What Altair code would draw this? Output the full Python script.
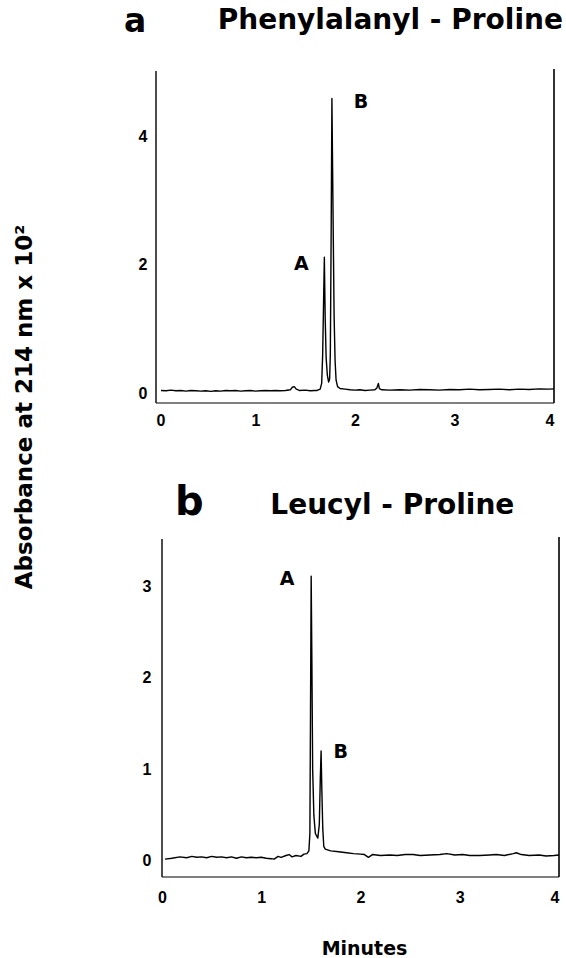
import altair as alt
import pandas as pd

# ---------------- data ----------------
# panel a : Phenylalanyl - Proline
top_time = [0.05, 0.10, 0.15, 0.20, 0.25, 0.30, 0.35, 0.40, 0.45, 0.50, 0.55, 0.60,
            0.65, 0.70, 0.75, 0.80, 0.85, 0.90, 0.95, 1.00, 1.05, 1.10, 1.15, 1.20,
            1.25, 1.30, 1.35, 1.37, 1.39, 1.41, 1.44, 1.50, 1.55, 1.60, 1.62, 1.650,
            1.665, 1.675, 1.685, 1.692, 1.700, 1.710, 1.722, 1.735, 1.745, 1.752,
            1.760, 1.768, 1.775, 1.782, 1.790, 1.800, 1.810, 1.825, 1.85, 1.90,
            1.95, 2.00, 2.05, 2.10, 2.15, 2.20, 2.22, 2.235, 2.245, 2.27, 2.35,
            2.45, 2.55, 2.65, 2.75, 2.85, 2.95, 3.05, 3.15, 3.25, 3.35, 3.45,
            3.55, 3.65, 3.75, 3.85, 3.95, 4.00]
top_abs = [0.040, 0.035, 0.045, 0.035, 0.040, 0.030, 0.040, 0.035, 0.030, 0.035, 0.025, 0.035,
           0.030, 0.040, 0.035, 0.040, 0.030, 0.035, 0.040, 0.030, 0.035, 0.040, 0.035, 0.040,
           0.035, 0.040, 0.050, 0.090, 0.100, 0.060, 0.040, 0.045, 0.035, 0.040, 0.040, 0.060,
           0.150, 0.600, 1.500, 2.120, 1.200, 0.550, 0.280, 0.170, 0.220, 0.600,
           2.400, 4.600, 3.500, 2.400, 1.200, 0.500, 0.200, 0.100, 0.070, 0.060,
           0.050, 0.045, 0.050, 0.040, 0.045, 0.050, 0.080, 0.150, 0.070, 0.050, 0.045,
           0.050, 0.045, 0.055, 0.050, 0.045, 0.055, 0.050, 0.060, 0.050, 0.055, 0.060,
           0.050, 0.060, 0.055, 0.065, 0.060, 0.065]

# panel b : Leucyl - Proline
bot_time = [0.03, 0.10, 0.18, 0.25, 0.30, 0.35, 0.40, 0.45, 0.50, 0.55, 0.60, 0.65,
            0.70, 0.75, 0.80, 0.85, 0.90, 0.95, 1.00, 1.05, 1.10, 1.13, 1.17, 1.20,
            1.25, 1.28, 1.31, 1.35, 1.40, 1.43, 1.46, 1.48, 1.490, 1.497, 1.503,
            1.510, 1.518, 1.530, 1.545, 1.570, 1.585, 1.595, 1.603, 1.610, 1.620,
            1.630, 1.645, 1.70, 1.78, 1.86, 1.93, 2.00, 2.04, 2.08, 2.12, 2.20,
            2.30, 2.37, 2.45, 2.53, 2.60, 2.70, 2.80, 2.87, 2.95, 3.03, 3.10, 3.20,
            3.30, 3.37, 3.45, 3.54, 3.57, 3.62, 3.70, 3.80, 3.87, 3.95, 4.00]
bot_abs = [0.020, 0.030, 0.045, 0.035, 0.050, 0.040, 0.045, 0.035, 0.050, 0.040, 0.045, 0.035,
           0.045, 0.030, 0.045, 0.035, 0.040, 0.035, 0.040, 0.030, 0.025, 0.020, 0.050, 0.040,
           0.060, 0.070, 0.045, 0.060, 0.050, 0.075, 0.080, 0.110, 0.300, 1.800, 3.110,
           2.200, 1.000, 0.500, 0.300, 0.250, 0.400, 0.900, 1.200, 0.800, 0.350,
           0.160, 0.130, 0.110, 0.100, 0.090, 0.080, 0.075, 0.070, 0.040, 0.070, 0.060,
           0.065, 0.060, 0.070, 0.070, 0.060, 0.065, 0.070, 0.080, 0.065, 0.070, 0.060, 0.060,
           0.065, 0.070, 0.060, 0.080, 0.090, 0.070, 0.060, 0.065, 0.055, 0.060, 0.065]

top_peak_names = ["A", "B"]
top_peak_time = [1.462, 2.06]
top_peak_abs = [2.02, 4.55]

bot_peak_names = ["A", "B"]
bot_peak_time = [1.26, 1.80]
bot_peak_abs = [3.075, 1.194]

top_ticks_x = [0, 1, 2, 3, 4]
top_ticks_y = [0, 2, 4]
bot_ticks_x = [0, 1, 2, 3, 4]
bot_ticks_y = [0, 1, 2, 3]

top_letter, top_title = "a", "Phenylalanyl - Proline"
bot_letter, bot_title = "b", "Leucyl - Proline"
y_title = "Absorbance at 214 nm x 10\u00b2"
x_title = "Minutes"

# ---------------- chart ----------------
FONT = "DejaVu Sans"
dummy = pd.DataFrame({"d": [0]})


def panel(times, absv, names, ptimes, pabs, xdom, ydom, W, H, xt, yt,
          ylabpad, xlabpad, extra):
    df = pd.DataFrame({"t": times, "a": absv})
    lab = pd.DataFrame({"t": ptimes, "a": pabs, "name": names})
    xs = alt.Scale(domain=xdom, nice=False, zero=False)
    ys = alt.Scale(domain=ydom, nice=False, zero=False)
    line = alt.Chart(df).mark_line(color="black", strokeWidth=1.4,
                                   strokeJoin="round").encode(
        x=alt.X("t:Q", scale=xs,
                axis=alt.Axis(values=xt, title=None, labelPadding=xlabpad, format="d")),
        y=alt.Y("a:Q", scale=ys,
                axis=alt.Axis(values=yt, title=None, labelPadding=ylabpad, format="d")),
    )
    left = alt.Chart(dummy).mark_rule(color="black", strokeWidth=1.4).encode(
        x=alt.datum(0), y=alt.value(0), y2=alt.value(H))
    right = alt.Chart(dummy).mark_rule(color="black", strokeWidth=1.6).encode(
        x=alt.datum(4), y=alt.value(-2), y2=alt.value(H))
    bottom = alt.Chart(dummy).mark_rule(color="black", strokeWidth=1.2).encode(
        x=alt.datum(0), x2=alt.datum(4), y=alt.value(H))
    peaks = alt.Chart(lab).mark_text(font=FONT, fontSize=19, fontWeight="bold",
                                     color="black").encode(
        x="t:Q", y="a:Q", text="name:N")
    return alt.layer(line, left, right, bottom, peaks, *extra).properties(
        width=W, height=H)


def label(txt, x, y, size, angle=0, align="left", baseline="alphabetic"):
    kw = dict(text=txt, font=FONT, fontSize=size, fontWeight="bold",
              color="black", align=align, baseline=baseline)
    if angle:
        kw["angle"] = angle
    return alt.Chart(dummy).mark_text(**kw).encode(x=alt.value(x), y=alt.value(y))


top_extra = [
    label(top_letter, -32, -39, 33),
    label(top_title, 61.7, -41.7, 28),
    label(y_title, -131, 336, 23, angle=270, align="center", baseline="middle"),
]
bot_extra = [
    label(bot_letter, 19, -24, 40),
    label(bot_title, 114.3, -25.3, 28),
    label(x_title, 208.5, 416, 19, align="center"),
]

top = panel(top_time, top_abs, top_peak_names, top_peak_time, top_peak_abs,
            [0, 4], [-0.156, 5.03], 398, 332, top_ticks_x, top_ticks_y, 9, 9, top_extra)
bot = panel(bot_time, bot_abs, bot_peak_names, bot_peak_time, bot_peak_abs,
            [-0.0605, 4], [-0.175, 3.515], 403, 338, bot_ticks_x, bot_ticks_y, 5, 12, bot_extra)

chart = alt.vconcat(top, bot, spacing=136, bounds="flush").properties(
    padding={"left": 13, "top": 5, "right": 0, "bottom": 0},
    background="white",
).configure_view(stroke="transparent").configure_axis(
    domain=False, ticks=False, grid=False,
    labelFont="Liberation Sans", labelFontSize=16, labelFontWeight="bold",
    labelColor="black",
)

chart.save("out.html", embed_options={"renderer": "svg", "actions": False})
